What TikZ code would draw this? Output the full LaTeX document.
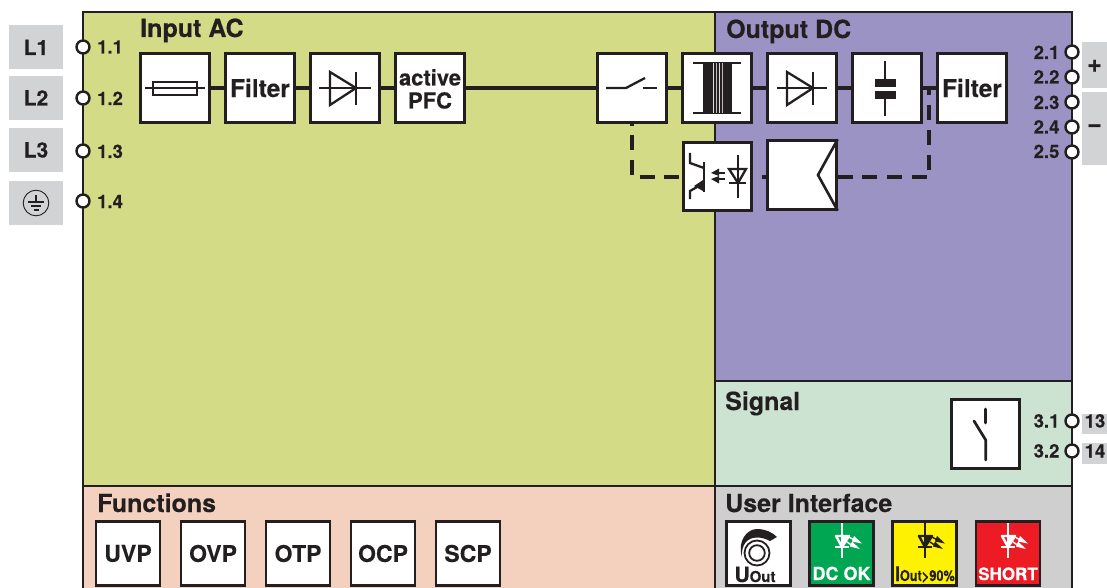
\documentclass[tikz,border=0pt]{standalone}
\usepackage{fontspec}
\setmainfont{TeX Gyre Heros}[BoldFeatures={FakeBold=0.25}]
\definecolor{ink}{HTML}{231F20}
\definecolor{acpanel}{HTML}{D3DB87}
\definecolor{dcpanel}{HTML}{9B93C3}
\definecolor{sigpanel}{HTML}{CCE3D2}
\definecolor{funpanel}{HTML}{F4D0BF}
\definecolor{uipanel}{HTML}{CFCFCF}
\definecolor{tabgrey}{HTML}{D1D3D4}
\definecolor{okgreen}{HTML}{00A651}
\definecolor{warnyellow}{HTML}{FFF200}
\definecolor{errred}{HTML}{ED1C24}
\newcommand{\fs}[1]{\fontsize{#1}{#1}\selectfont}
\newcommand{\ledmark}[2]{%
  \begin{scope}[shift={(#1,0)},draw=#2,fill=#2]
    \draw[line width=2.4pt] (0,523) -- (0,558);
    \draw[line width=2.4pt,line join=round] (-6,536) -- (7,536) -- (0,547) -- cycle;
    \draw[line width=2.4pt] (-7,547) -- (7,547);
    \fill (0,537) -- (6,537) -- (1,545) -- cycle;
    \draw[line width=1.4pt] (7,537) -- (14,541);
    \fill (12,536) -- (20,543.5) -- (10,541.5) -- cycle;
    \draw[line width=1.4pt] (5,542) -- (11,546);
    \fill (10,541.5) -- (18,549) -- (8,546.5) -- cycle;
  \end{scope}}
\tikzset{
  panel/.style={draw=ink,line width=2.6pt,line join=miter},
  blockbox/.style={draw=ink,fill=white,line width=2.8pt,minimum width=68.5pt,minimum height=68.5pt,inner sep=0pt,text=ink,font=\bfseries\fs{24.5}},
  fnbox/.style={draw=ink,fill=white,line width=2.8pt,minimum width=64pt,minimum height=64pt,inner sep=0pt,text=ink,font=\bfseries\fs{23}},
  uibox/.style={draw=ink,line width=2.8pt,minimum width=64pt,minimum height=64pt,inner sep=0pt},
  terminal/.style={circle,draw=ink,fill=white,line width=2.4pt,minimum size=13pt,inner sep=0pt},
  tab/.style={fill=tabgrey,inner sep=0pt},
  title/.style={anchor=base west,inner sep=0pt,text=ink,font=\bfseries\fs{25}},
  pinlabel/.style={anchor=base west,inner sep=0pt,text=ink,font=\bfseries\fs{18.5}},
  tabtext/.style={anchor=base,inner sep=0pt,text=ink,font=\bfseries\fs{21}},
  wire/.style={draw=ink,line width=3.3pt},
  ctrl/.style={draw=ink,line width=3.3pt,dash pattern=on 15pt off 9.7pt},
  sym/.style={draw=ink,line width=2.3pt},
  symthick/.style={draw=ink,line width=2.7pt,line cap=round}
}
\begin{document}
\begin{tikzpicture}[x=1pt,y=-1pt]
\useasboundingbox (0,0) rectangle (1107,588);
\clip (0,0) rectangle (1107,588);
% panels
\path[panel,fill=acpanel] (83,12) rectangle (715,486);
\path[panel,fill=dcpanel] (715,12) rectangle (1072,381);
\path[panel,fill=sigpanel] (715,381) rectangle (1072,486);
\path[panel,fill=funpanel] (83,486) rectangle (715,600);
\path[panel,fill=uipanel] (715,486) rectangle (1072,600);
% titles
\node[title] (tInput) at (140,37) {Input AC};
\node[title] (tOutput) at (726,38) {Output DC};
\node[title] (tSignal) at (725,410) {Signal};
\node[title] (tFunctions) at (97,512) {Functions};
\node[title] (tUser) at (725,512) {User Interface};
% grey tabs
\node[tab,minimum width=54pt,minimum height=44pt] (tabL1) at (36,47) {};
\node[tab,minimum width=54pt,minimum height=44pt] (tabL2) at (36,98) {};
\node[tab,minimum width=54pt,minimum height=44pt] (tabL3) at (36,150) {};
\node[tab,minimum width=54pt,minimum height=44pt] (tabPE) at (36,203) {};
\node[tab,minimum width=25pt,minimum height=46pt] (tabPlus) at (1094.5,65) {};
\node[tab,minimum width=25pt,minimum height=73pt] (tabMinus) at (1094.5,128.5) {};
\node[tab,minimum width=25pt,minimum height=20pt] (tab13) at (1094.5,424) {};
\node[tab,minimum width=25pt,minimum height=21pt] (tab14) at (1094.5,453.5) {};
\node[tabtext] (lL1) at (36,55) {L1};
\node[tabtext] (lL2) at (36,105.5) {L2};
\node[tabtext] (lL3) at (36,157.5) {L3};
\node[tabtext,font=\bfseries\fs{25}] (lPlus) at (1094.5,72) {+};
\node[tabtext,font=\bfseries\fs{25}] (lMinus) at (1094.5,132) {−};
\node[pinlabel,anchor=base] (l13) at (1095,427.5) {13};
\node[pinlabel,anchor=base] (l14) at (1095,457.5) {14};
% earth symbol
\draw[draw=ink,line width=.9pt] (tabPE.center) circle (12.8);
\draw[draw=ink,line width=1.3pt] (36,195) -- (36,202) (28,202) -- (44,202) (31,206) -- (41,206) (33.5,210) -- (38.5,210);
% terminals
\foreach \n/\y in {a/47,b/98,c/151,d/201}{
  \node[terminal] (p\n) at (83,\y) {};
}
\node[pinlabel] (l11) at (97,53.5) {1.1};
\node[pinlabel] (l12) at (97,105) {1.2};
\node[pinlabel] (l13a) at (97,158) {1.3};
\node[pinlabel] (l14a) at (97,208) {1.4};
\foreach \n/\y in {e/52,f/77,g/102,h/127,i/152,j/421,k/451}{
  \node[terminal] (p\n) at (1072,\y) {};
}
\node[pinlabel] (l21) at (1033.5,59) {2.1};
\node[pinlabel] (l22) at (1033.5,83.5) {2.2};
\node[pinlabel] (l23) at (1033.5,109) {2.3};
\node[pinlabel] (l24) at (1033.5,133.5) {2.4};
\node[pinlabel] (l25) at (1033.5,158) {2.5};
\node[pinlabel] (l31) at (1033.5,427.5) {3.1};
\node[pinlabel] (l32) at (1033.5,457.5) {3.2};
% blocks
\node[blockbox] (fuse) at (175,88) {};
\node[blockbox] (filterA) at (260,88) {Filter};
\node[blockbox] (rect) at (345,88) {};
\node[blockbox] (pfc) at (430,88) {};
\node[blockbox] (switch) at (632,88) {};
\node[blockbox] (trafo) at (717,88) {};
\node[blockbox] (diode) at (802,88) {};
\node[blockbox] (cap) at (887,88) {};
\node[blockbox] (filterB) at (972,88) {Filter};
\node[blockbox] (opto) at (717.5,176.5) {};
\node[blockbox] (amp) at (802,175) {};
\node[blockbox] (relay) at (985.5,434) {};
\node[inner sep=0pt,text=ink,anchor=base,font=\bfseries\fs{22}] (pfcA) at (430,85.5) {active};
\node[inner sep=0pt,text=ink,anchor=base,font=\bfseries\fs{22}] (pfcB) at (430,108.5) {PFC};
% wires
\draw[wire] (fuse) -- (filterA);
\draw[wire] (filterA) -- (rect);
\draw[wire] (rect) -- (pfc);
\draw[wire] (pfc) -- (switch);
\draw[wire] (switch) -- (trafo);
\draw[wire] (trafo) -- (diode);
\draw[wire] (diode) -- (cap);
\draw[wire] (cap) -- (filterB);
\coordinate (ctlA) at (632,177);
\coordinate (ctlB) at (929,177);
\coordinate (ctlC) at (929,88);
\coordinate (stub) at (762,177);
\draw[ctrl,dash phase=13pt] (switch.south) -- (ctlA) -- (opto.west |- ctlA);
\draw[ctrl] (amp.east |- ctlB) -- (ctlB) -- (ctlC);
\draw[wire] (amp.west |- stub) -- (stub);
% fuse
\draw[sym] (145,88) -- (205,88);
\draw[sym] (153,82) rectangle (197,95);
% rectifier
\draw[sym] (319,88) -- (371,88);
\draw[sym,line join=miter] (330,72) -- (330,105) -- (356,88) -- cycle;
\draw[sym] (356,72) -- (356,105);
% switch
\draw[sym] (606,88) -- (626,88) -- (645,78);
\draw[sym] (643,88) -- (657,88);
% transformer
\draw[sym] (693,63) -- (741,63);
\draw[sym] (693,113) -- (741,113);
\fill[ink] (703,63) rectangle (732,113);
\draw[white!85!ink,line width=.9pt] (713,63) -- (713,113) (719,63) -- (719,113);
\draw[white!70!ink,line width=.7pt] (716,63) -- (716,113) (722,63) -- (722,113);
% diode
\draw[sym] (777,88) -- (827,88);
\draw[sym,line join=miter] (787,72) -- (787,105) -- (813,88) -- cycle;
\draw[sym] (813,72) -- (813,105);
% capacitor
\draw[sym] (885,61) -- (885,79) (885,99) -- (885,116);
\fill[ink] (875,79) rectangle (896,87);
\fill[ink] (875,91) rectangle (896,99);
% optocoupler
\draw[sym] (704,162) -- (704,192);
\draw[sym] (690,153) -- (690,163) -- (704,168);
\draw[sym] (690,199) -- (690,191) -- (704,183);
\fill[ink] (703,180) -- (694,186) -- (703,191) -- cycle;
\draw[sym] (738,155) -- (738,198);
\draw[sym,line join=miter] (729,169) -- (746,169) -- (738,183) -- cycle;
\draw[sym] (729,183) -- (746,183);
\draw[sym] (725,173) -- (716,173);
\draw[sym] (725,179) -- (716,179);
\fill[ink] (711,173) -- (719,168.5) -- (719,176) -- cycle;
\fill[ink] (711,179) -- (719,176) -- (719,183.5) -- cycle;
% amplifier chevron
\draw[draw=ink,line width=2.6pt] (amp.north east) -- (818,175) -- (amp.south east);
% relay contact
\draw[symthick] (985.7,409) -- (985.7,423);
\draw[symthick] (974,421) -- (985.7,440) -- (985.7,460);
% functions
\node[fnbox] (uvp) at (128,553.5) {UVP};
\node[fnbox] (ovp) at (213,553.5) {OVP};
\node[fnbox] (otp) at (298,553.5) {OTP};
\node[fnbox] (ocp) at (383,553.5) {OCP};
\node[fnbox] (scp) at (468,553.5) {SCP};
% user interface
\node[uibox,fill=white] (uiU) at (758.5,553.5) {};
\node[uibox,fill=okgreen] (uiDC) at (841.5,553.5) {};
\node[uibox,fill=warnyellow] (uiI) at (924.5,553.5) {};
\node[uibox,fill=errred] (uiS) at (1008,553.5) {};
% dial
\draw[draw=ink,line width=1.8pt] (757,553) circle (12.5);
\draw[draw=ink,line width=1.8pt] (757,553) circle (7.8);
\fill[ink] (742,557) .. controls (737,541) and (747,529) .. (757,529) .. controls (765,529) and (772,532) .. (777,537) -- (770,541) .. controls (766,539) and (762,537.5) .. (757,537.5) .. controls (747,537.5) and (741,545) .. (742,557) -- cycle;
\node[anchor=base,inner sep=0pt,text=ink,font=\bfseries\fs{21}] (tU) at (755,582) {U{\fs{15}Out}};
\ledmark{842}{white}
\ledmark{925}{ink}
\ledmark{1008}{white}
\node[anchor=base,inner sep=0pt,text=white,font=\bfseries\fs{18}] (tDC) at (841.5,580) {DC OK};
\node[anchor=base,inner sep=0pt,text=ink,xscale=.85,font=\bfseries] (tI) at (925,581) {{\fs{20}I}{\fs{15}Out>90\%}};
\node[anchor=base,inner sep=0pt,text=white,font=\bfseries\fs{17}] (tS) at (1008,580) {SHORT};
\end{tikzpicture}
\end{document}
